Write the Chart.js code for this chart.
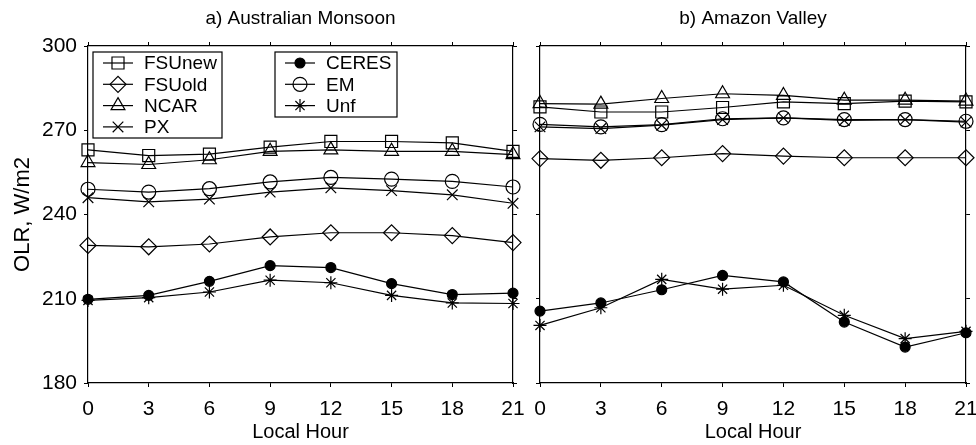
<!DOCTYPE html>
<html>
<head>
<meta charset="utf-8">
<script src="https://cdn.jsdelivr.net/npm/chart.js@4.4.0/dist/chart.umd.min.js"></script>
<style>
  html, body { margin: 0; padding: 0; background: #fff; overflow: hidden; width: 976px; height: 445px; }
  #left { position: absolute; left: 0; top: 0; }
  #right { position: absolute; left: 524px; top: 0; }
</style>
</head>
<body>
<canvas id="left" width="536" height="445"></canvas>
<canvas id="right" width="465" height="445"></canvas>
<script>
// local hour of day
const hours = [0, 3, 6, 9, 12, 15, 18, 21];
const yTicks = [180, 210, 240, 270, 300];

// a) Australian Monsoon, OLR W/m2
const ausFSUnew = [263, 261, 261.5, 264, 266, 266, 265.5, 262.5];
const ausFSUold = [229, 228.5, 229.5, 232, 233.5, 233.5, 232.5, 230];
const ausNCAR   = [258.5, 257.8, 259.5, 262.5, 263, 262.5, 262.5, 261.3];
const ausPX     = [246, 244.5, 245.5, 248, 249.5, 248.5, 247, 244];
const ausCERES  = [209.8, 211.2, 216.2, 221.8, 221.1, 215.4, 211.5, 212];
const ausEM     = [249, 248, 249.2, 251.6, 253.2, 252.6, 251.8, 249.8];
const ausUnf    = [209.4, 210.4, 212.4, 216.6, 215.7, 211.2, 208.5, 208.3];

// b) Amazon Valley
const amzFSUnew = [278.3, 276.5, 276.5, 278.1, 280.1, 279.5, 280.4, 280.1];
const amzFSUold = [259.9, 259.3, 260.2, 261.7, 260.8, 260.2, 260.2, 260.2];
const amzNCAR   = [279.5, 279.3, 281.3, 283, 282.4, 280.7, 280.7, 280.4];
const amzPX     = [271.2, 270.6, 271.8, 273.8, 274.4, 273.5, 273.8, 272.9];
const amzCERES  = [205.6, 208.5, 213.2, 218.3, 216, 201.7, 192.8, 197.9];
const amzEM     = [272.1, 271.2, 272, 274.1, 274.4, 273.8, 273.8, 273.2];
const amzUnf    = [200.5, 206.8, 216.9, 213.4, 214.8, 204.1, 195.8, 198.4];

const FONT = '"Liberation Sans", Arial, Helvetica, sans-serif';
Chart.defaults.font.family = FONT;
Chart.defaults.color = '#000';

const markers = {
  FSUnew: { pointStyle: 'rect', r: 8.5, fill: 'rgba(0,0,0,0)' },
  FSUold: { pointStyle: 'rectRot', r: 8, fill: 'rgba(0,0,0,0)' },
  NCAR:   { pointStyle: 'triangle', r: 8, fill: 'rgba(0,0,0,0)' },
  PX:     { pointStyle: 'crossRot', r: 7.5, fill: 'rgba(0,0,0,0)' },
  CERES:  { pointStyle: 'circle', r: 5, fill: '#000' },
  EM:     { pointStyle: 'circle', r: 7, fill: 'rgba(0,0,0,0)' },
  Unf:    { pointStyle: 'star', r: 6.5, fill: 'rgba(0,0,0,0)' }
};

function series(name, values) {
  const m = markers[name];
  return {
    label: name,
    data: hours.map((h, i) => ({ x: h, y: values[i] })),
    borderColor: '#000',
    borderWidth: 1.2,
    tension: 0,
    pointStyle: m.pointStyle,
    pointRadius: m.r,
    pointHoverRadius: m.r,
    pointBackgroundColor: m.fill,
    pointBorderColor: '#000',
    pointBorderWidth: 1.2,
    clip: false
  };
}

// boxed legend drawn inside the plot area
const boxLegend = {
  id: 'boxLegend',
  afterDraw(chart, args, opts) {
    if (!opts.groups) return;
    const ctx = chart.ctx, area = chart.chartArea;
    ctx.save();
    opts.groups.forEach(g => {
      const bx = area.left + g.x, by = area.top + g.y;
      ctx.fillStyle = '#fff';
      ctx.fillRect(bx, by, g.w, g.h);
      ctx.lineWidth = 1.2;
      ctx.strokeStyle = '#000';
      ctx.strokeRect(bx, by, g.w, g.h);
      g.items.forEach((idx, i) => {
        const ds = chart.data.datasets[idx];
        const y = by + 11 + i * 21.3;
        ctx.beginPath();
        ctx.moveTo(bx + 10, y);
        ctx.lineTo(bx + 40, y);
        ctx.stroke();
        ctx.fillStyle = ds.pointBackgroundColor;
        Chart.helpers.drawPoint(ctx, {
          pointStyle: ds.pointStyle, radius: ds.pointRadius,
          borderWidth: ds.pointBorderWidth, rotation: 0
        }, bx + 25, y);
        ctx.fillStyle = '#000';
        ctx.font = '19px ' + FONT;
        ctx.textBaseline = 'middle';
        ctx.textAlign = 'left';
        ctx.fillText(ds.label, bx + 51, y + 1);
      });
    });
    ctx.restore();
  }
};

function axisBase(pos) {
  return {
    type: 'linear',
    position: pos,
    grid: { drawOnChartArea: false, tickLength: 4, color: '#000', lineWidth: 1 },
    border: { color: '#000', width: 1.2 }
  };
}

function makePanel(id, title, data, showY, legendGroups, yw, y2w) {
  const x = axisBase('bottom');
  x.min = 0; x.max = 21;
  x.ticks = { stepSize: 3, font: { size: 21 }, padding: 10, maxRotation: 0, autoSkip: false };
  x.title = { display: true, text: 'Local Hour', font: { size: 20 }, padding: { top: 0, bottom: 1 } };
  x.afterFit = s => { s.height = 62; };

  const x2 = axisBase('top');
  x2.min = 0; x2.max = 21;
  x2.ticks = { stepSize: 3, display: false };
  x2.title = { display: true, text: title, font: { size: 19 }, padding: { top: 7, bottom: 0 } };
  x2.afterFit = s => { s.height = 46; };

  const y = axisBase('left');
  y.min = yTicks[0]; y.max = yTicks[yTicks.length - 1];
  y.afterBuildTicks = s => { s.ticks = yTicks.map(v => ({ value: v })); };
  y.ticks = { display: showY, font: { size: 21 }, padding: 7 };
  y.title = { display: showY, text: 'OLR, W/m2', font: { size: 22 }, padding: { top: 10, bottom: 0 } };
  y.afterFit = s => { s.width = yw; };

  const y2 = axisBase('right');
  y2.min = yTicks[0]; y2.max = yTicks[yTicks.length - 1];
  y2.afterBuildTicks = s => { s.ticks = yTicks.map(v => ({ value: v })); };
  y2.ticks = { display: false };
  y2.afterFit = s => { s.width = y2w; };

  return new Chart(document.getElementById(id), {
    type: 'line',
    data: {
      datasets: [
        series('FSUnew', data[0]),
        series('FSUold', data[1]),
        series('NCAR', data[2]),
        series('PX', data[3]),
        series('CERES', data[4]),
        series('EM', data[5]),
        series('Unf', data[6])
      ]
    },
    options: {
      responsive: false,
      animation: false,
      devicePixelRatio: 1,
      layout: { padding: 0 },
      scales: { x, x2, y, y2 },
      plugins: {
        legend: { display: false },
        tooltip: { enabled: false },
        title: { display: false },
        boxLegend: { groups: legendGroups }
      }
    },
    plugins: [boxLegend]
  });
}

makePanel('left', 'a) Australian Monsoon',
  [ausFSUnew, ausFSUold, ausNCAR, ausPX, ausCERES, ausEM, ausUnf],
  true,
  [
    { x: 5, y: 6, w: 129, h: 86, items: [0, 1, 2, 3] },
    { x: 187, y: 6, w: 122, h: 65, items: [4, 5, 6] }
  ],
  88, 23);

makePanel('right', 'b) Amazon Valley',
  [amzFSUnew, amzFSUold, amzNCAR, amzPX, amzCERES, amzEM, amzUnf],
  false, null, 16, 23);
</script>
</body>
</html>
